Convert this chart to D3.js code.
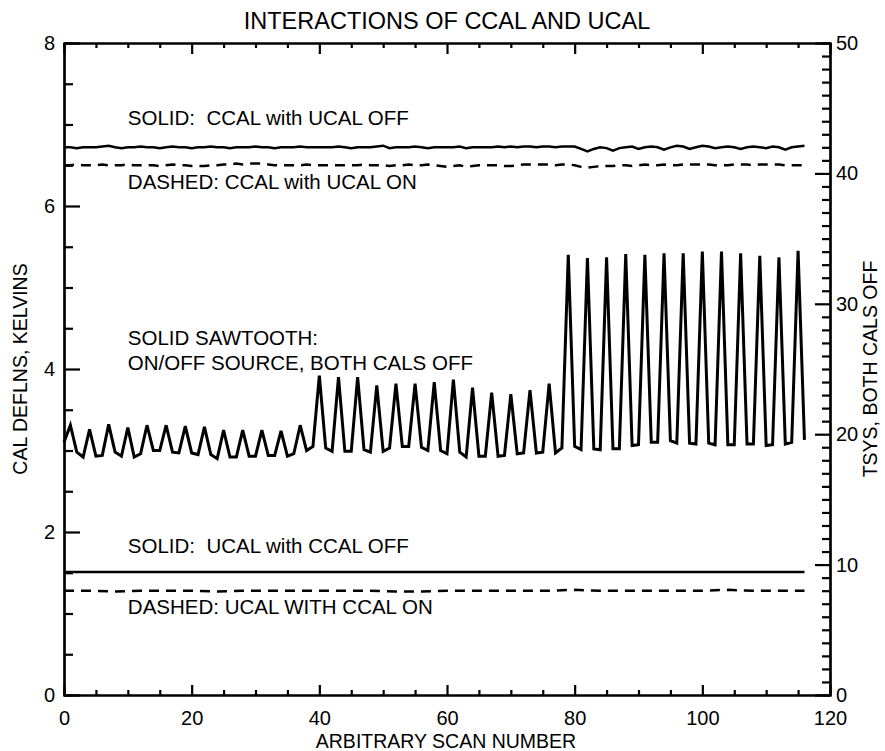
<!DOCTYPE html>
<html>
<head>
<meta charset="utf-8">
<script src="https://cdn.jsdelivr.net/npm/d3@7"></script>
<style>
  html, body { margin: 0; padding: 0; background: #fff; }
  svg text { font-family: "Liberation Sans", Arial, Helvetica, sans-serif; fill: #000; }
</style>
</head>
<body>
<svg id="chart" width="885" height="751"></svg>
<script>
// ---------- DATA ----------
const title = "INTERACTIONS OF CCAL AND UCAL";
const xLabel = "ARBITRARY SCAN NUMBER";
const yLeftLabel = "CAL DEFLNS, KELVINS";
const yRightLabel = "TSYS, BOTH CALS OFF";

const xMajorTicks = [0, 20, 40, 60, 80, 100, 120];
const yLeftMajorTicks = [0, 2, 4, 6, 8];
const yRightMajorTicks = [0, 10, 20, 30, 40, 50];

// series indexed by scan number 0..116
const sawtooth = [
  3.10, 3.31, 2.98, 2.92, 3.26, 2.93, 2.94, 3.32, 2.98, 2.93,
  3.28, 2.92, 2.96, 3.31, 3.00, 3.00, 3.31, 2.98, 2.97, 3.30,
  2.97, 2.95, 3.29, 2.95, 2.90, 3.25, 2.92, 2.92, 3.25, 2.93,
  2.93, 3.25, 2.94, 2.94, 3.24, 2.93, 2.96, 3.31, 3.00, 3.05,
  3.92, 3.03, 2.99, 3.90, 2.99, 2.99, 3.90, 3.01, 2.98, 3.80,
  2.99, 3.03, 3.82, 3.05, 3.05, 3.82, 3.04, 3.00, 3.84, 3.00,
  2.96, 3.87, 2.98, 2.92, 3.77, 2.93, 2.93, 3.71, 2.93, 2.94,
  3.69, 2.96, 2.97, 3.74, 2.97, 2.98, 3.82, 2.97, 3.03, 5.40,
  3.05, 3.01, 5.36, 3.02, 3.01, 5.37, 3.02, 3.02, 5.41, 3.06,
  3.07, 5.40, 3.10, 3.10, 5.42, 3.12, 3.09, 5.42, 3.09, 3.08,
  5.44, 3.09, 3.07, 5.44, 3.07, 3.07, 5.42, 3.08, 3.08, 5.39,
  3.06, 3.07, 5.37, 3.08, 3.10, 5.45, 3.13
];

const ccalUcalOff = [
  6.72, 6.72, 6.71, 6.72, 6.72, 6.72, 6.73, 6.74, 6.72, 6.71,
  6.72, 6.72, 6.73, 6.72, 6.72, 6.71, 6.72, 6.73, 6.72, 6.72,
  6.71, 6.72, 6.72, 6.73, 6.72, 6.72, 6.71, 6.72, 6.72, 6.72,
  6.73, 6.72, 6.72, 6.71, 6.72, 6.72, 6.72, 6.73, 6.72, 6.72,
  6.72, 6.72, 6.72, 6.73, 6.72, 6.71, 6.72, 6.72, 6.72, 6.73,
  6.74, 6.71, 6.72, 6.72, 6.72, 6.73, 6.72, 6.71, 6.72, 6.72,
  6.72, 6.72, 6.73, 6.71, 6.72, 6.72, 6.72, 6.72, 6.73, 6.72,
  6.73, 6.72, 6.73, 6.73, 6.72, 6.73, 6.73, 6.72, 6.73, 6.73,
  6.73, 6.70, 6.67, 6.70, 6.72, 6.71, 6.68, 6.71, 6.72, 6.73,
  6.70, 6.72, 6.73, 6.72, 6.69, 6.72, 6.74, 6.73, 6.70, 6.72,
  6.74, 6.73, 6.71, 6.72, 6.73, 6.72, 6.70, 6.72, 6.73, 6.72,
  6.71, 6.73, 6.72, 6.69, 6.72, 6.73, 6.74
];

const ccalUcalOn = [
  6.50, 6.50, 6.51, 6.50, 6.50, 6.50, 6.51, 6.50, 6.50, 6.50,
  6.51, 6.50, 6.50, 6.50, 6.50, 6.49, 6.50, 6.51, 6.50, 6.50,
  6.49, 6.49, 6.49, 6.50, 6.50, 6.51, 6.51, 6.52, 6.51, 6.52,
  6.52, 6.52, 6.51, 6.50, 6.50, 6.50, 6.50, 6.50, 6.51, 6.50,
  6.50, 6.50, 6.50, 6.50, 6.50, 6.50, 6.50, 6.51, 6.50, 6.50,
  6.50, 6.49, 6.50, 6.50, 6.51, 6.50, 6.50, 6.51, 6.50, 6.49,
  6.48, 6.49, 6.50, 6.48, 6.49, 6.50, 6.50, 6.50, 6.50, 6.49,
  6.49, 6.50, 6.51, 6.51, 6.51, 6.51, 6.51, 6.50, 6.51, 6.51,
  6.50, 6.48, 6.47, 6.48, 6.49, 6.49, 6.49, 6.50, 6.50, 6.49,
  6.50, 6.51, 6.50, 6.50, 6.51, 6.50, 6.50, 6.51, 6.51, 6.51,
  6.51, 6.51, 6.50, 6.50, 6.50, 6.51, 6.51, 6.51, 6.50, 6.51,
  6.51, 6.51, 6.51, 6.50, 6.50, 6.50, 6.50
];

// UCAL series sampled every 4 scans
const ucalScans = [0, 4, 8, 12, 16, 20, 24, 28, 32, 36, 40, 44, 48, 52, 56,
                   60, 64, 68, 72, 76, 80, 84, 88, 92, 96, 100, 104, 108, 112, 116];
const ucalCcalOff = [1.51, 1.51, 1.51, 1.51, 1.51, 1.51, 1.51, 1.51, 1.51, 1.51,
                     1.51, 1.51, 1.51, 1.51, 1.51, 1.51, 1.51, 1.51, 1.51, 1.51,
                     1.51, 1.51, 1.51, 1.51, 1.51, 1.51, 1.51, 1.51, 1.51, 1.51];
const ucalCcalOn = [1.28, 1.28, 1.27, 1.28, 1.28, 1.28, 1.27, 1.28, 1.28, 1.28,
                    1.28, 1.28, 1.28, 1.27, 1.27, 1.28, 1.28, 1.28, 1.28, 1.28,
                    1.29, 1.28, 1.28, 1.28, 1.28, 1.28, 1.29, 1.28, 1.28, 1.28];

const annotations = [
  { text: "SOLID:  CCAL with UCAL OFF", x: 10, y: 6.99 },
  { text: "DASHED: CCAL with UCAL ON", x: 10, y: 6.21 },
  { text: "SOLID SAWTOOTH:", x: 10, y: 4.30 },
  { text: "ON/OFF SOURCE, BOTH CALS OFF", x: 10, y: 3.99 },
  { text: "SOLID:  UCAL with CCAL OFF", x: 10, y: 1.74 },
  { text: "DASHED: UCAL WITH CCAL ON", x: 10, y: 0.99 }
];

// ---------- LAYOUT ----------
const M = { left: 64, right: 830, top: 43, bottom: 695 };
const FS = 20;
const svg = d3.select("#chart");

const x = d3.scaleLinear().domain([0, 120]).range([M.left, M.right]);
const yL = d3.scaleLinear().domain([0, 8]).range([M.bottom, M.top]);
const yR = d3.scaleLinear().domain([0, 50]).range([M.bottom, M.top]);

const xMinor = d3.range(0, 121, 5).filter(v => v % 20 !== 0);
const yLMinor = d3.range(0, 8.01, 0.5).filter(v => v % 2 !== 0);
const yRMinor = d3.range(0, 51, 1).filter(v => v % 10 !== 0);

function styleAxis(g) {
  g.select(".domain").attr("stroke", "#000").attr("stroke-width", 2.2);
  g.selectAll(".tick line").attr("stroke", "#000").attr("stroke-width", 2.2);
  g.selectAll("text").attr("font-size", FS).attr("fill", "#000")
    .style("font-family", '"Liberation Sans", Arial, sans-serif');
}

// bottom
svg.append("g").attr("transform", `translate(0,${M.bottom})`)
  .call(d3.axisBottom(x).tickValues(xMinor).tickSize(-5).tickFormat(""))
  .call(styleAxis);
svg.append("g").attr("transform", `translate(0,${M.bottom})`)
  .call(d3.axisBottom(x).tickValues(xMajorTicks).tickSize(-10).tickSizeOuter(0).tickPadding(16).tickFormat(d3.format("d")))
  .call(styleAxis);
// top
svg.append("g").attr("transform", `translate(0,${M.top})`)
  .call(d3.axisTop(x).tickValues(xMinor).tickSize(-5).tickFormat(""))
  .call(styleAxis);
svg.append("g").attr("transform", `translate(0,${M.top})`)
  .call(d3.axisTop(x).tickValues(xMajorTicks).tickSize(-11).tickSizeOuter(0).tickFormat(""))
  .call(styleAxis);
// left
svg.append("g").attr("transform", `translate(${M.left},0)`)
  .call(d3.axisLeft(yL).tickValues(yLMinor).tickSize(-9).tickFormat(""))
  .call(styleAxis);
svg.append("g").attr("transform", `translate(${M.left},0)`)
  .call(d3.axisLeft(yL).tickValues(yLeftMajorTicks).tickSize(-16).tickSizeOuter(0).tickPadding(9).tickFormat(d3.format("d")))
  .call(styleAxis);
// right
svg.append("g").attr("transform", `translate(${M.right},0)`)
  .call(d3.axisRight(yR).tickValues(yRMinor).tickSize(-8).tickFormat(""))
  .call(styleAxis);
svg.append("g").attr("transform", `translate(${M.right},0)`)
  .call(d3.axisRight(yR).tickValues(yRightMajorTicks).tickSize(-15).tickSizeOuter(0).tickPadding(6).tickFormat(d3.format("d")))
  .call(styleAxis);

// ---------- LINES ----------
const lineIdx = d3.line().x((d, i) => x(i)).y(d => yL(d));
const lineUcal = d3.line().x((d, i) => x(ucalScans[i])).y(d => yL(d));

svg.append("path").datum(ccalUcalOff).attr("d", lineIdx)
  .attr("fill", "none").attr("stroke", "#000").attr("stroke-width", 2.5);
svg.append("path").datum(ccalUcalOn).attr("d", lineIdx)
  .attr("fill", "none").attr("stroke", "#000").attr("stroke-width", 2.5)
  .attr("stroke-dasharray", "10,7");
svg.append("path").datum(sawtooth).attr("d", lineIdx)
  .attr("fill", "none").attr("stroke", "#000").attr("stroke-width", 3)
  .attr("stroke-linejoin", "miter");
svg.append("path").datum(ucalCcalOff).attr("d", lineUcal)
  .attr("fill", "none").attr("stroke", "#000").attr("stroke-width", 2.5);
svg.append("path").datum(ucalCcalOn).attr("d", lineUcal)
  .attr("fill", "none").attr("stroke", "#000").attr("stroke-width", 2.5)
  .attr("stroke-dasharray", "10,7");

// ---------- TEXT ----------
svg.selectAll("text.ann").data(annotations).enter().append("text")
  .attr("class", "ann")
  .attr("x", d => x(d.x)).attr("y", d => yL(d.y))
  .attr("font-size", 20.5)
  .style("white-space", "pre")
  .attr("xml:space", "preserve")
  .text(d => d.text);

svg.append("text").attr("x", (M.left + M.right) / 2).attr("y", 29)
  .attr("text-anchor", "middle").attr("font-size", 23.5).text(title);
svg.append("text").attr("x", 446).attr("y", 748)
  .attr("text-anchor", "middle").attr("font-size", 19.5).text(xLabel);
svg.append("text")
  .attr("transform", `translate(27,${(M.top + M.bottom) / 2}) rotate(-90)`)
  .attr("text-anchor", "middle").attr("font-size", 19.5).text(yLeftLabel);
svg.append("text")
  .attr("transform", `translate(877,${(M.top + M.bottom) / 2}) rotate(-90)`)
  .attr("text-anchor", "middle").attr("font-size", 19.5).text(yRightLabel);
</script>
</body>
</html>
